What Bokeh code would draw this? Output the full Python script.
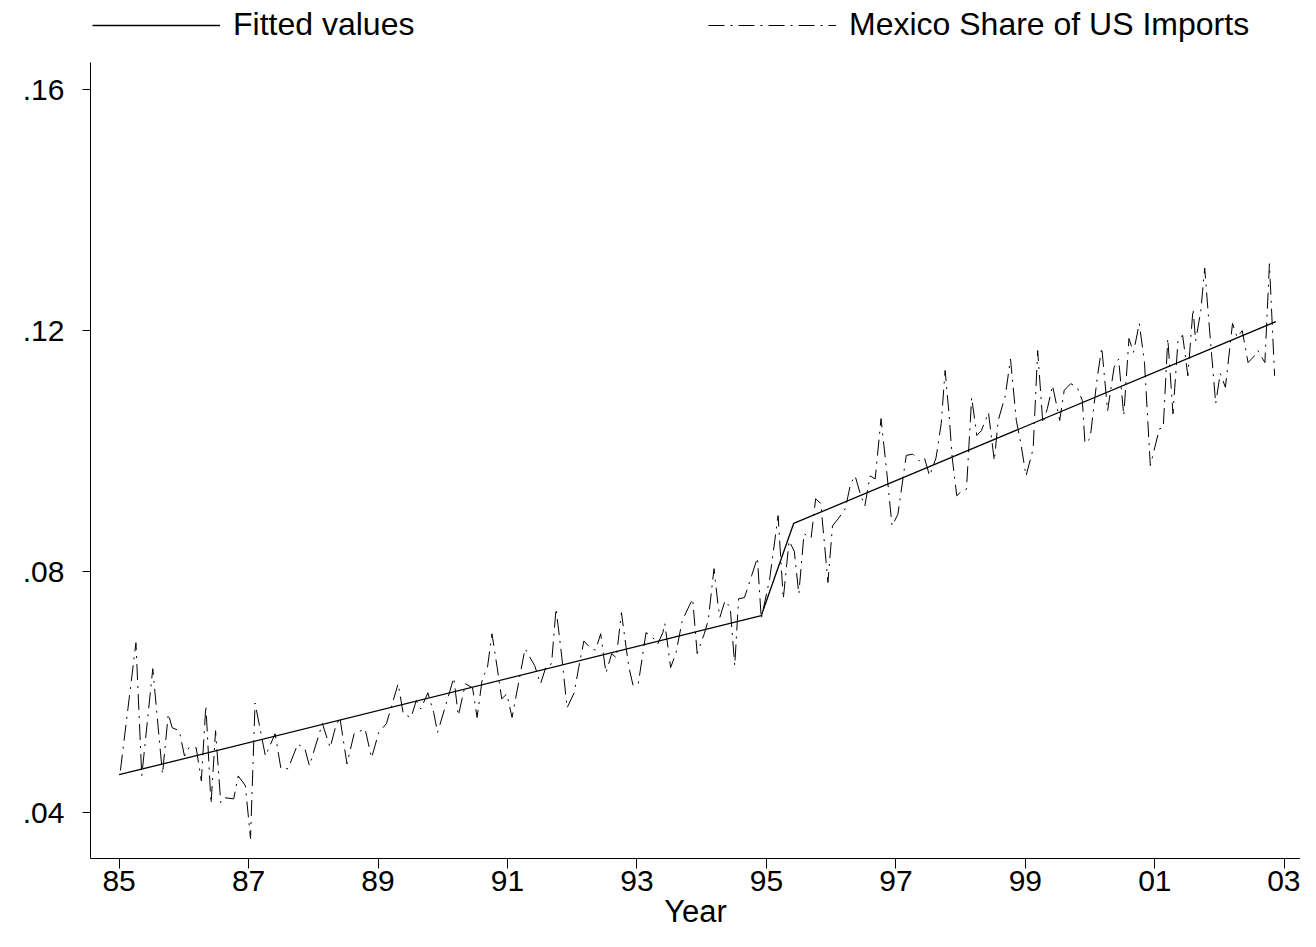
from bokeh.plotting import figure
from bokeh.layouts import column
from bokeh.models import Range1d, FixedTicker, Legend, LegendItem, ColumnDataSource
from bokeh.embed import file_html
from bokeh.resources import INLINE

# ---- data ----
share_year = [1985.02, 1985.26, 1985.35, 1985.52, 1985.67, 1985.76, 1985.82, 1985.93, 1986.01, 1986.08,
              1986.19, 1986.27, 1986.34, 1986.42, 1986.49, 1986.57, 1986.62, 1986.77, 1986.84, 1986.95,
              1987.03, 1987.10, 1987.26, 1987.41, 1987.50, 1987.61, 1987.76, 1987.87, 1987.94, 1988.14,
              1988.26, 1988.34, 1988.41, 1988.52, 1988.63, 1988.80, 1988.90, 1989.01, 1989.13, 1989.31,
              1989.39, 1989.51, 1989.59, 1989.66, 1989.77, 1989.86, 1989.92, 1990.08, 1990.17, 1990.24,
              1990.35, 1990.46, 1990.53, 1990.61, 1990.69, 1990.76, 1990.84, 1990.91, 1990.99, 1991.07,
              1991.27, 1991.42, 1991.51, 1991.60, 1991.68, 1991.75, 1991.84, 1991.92, 1992.03, 1992.10,
              1992.18, 1992.29, 1992.36, 1992.44, 1992.52, 1992.61, 1992.68, 1992.76, 1992.87, 1992.94,
              1993.02, 1993.14, 1993.25, 1993.32, 1993.40, 1993.43, 1993.52, 1993.60, 1993.70, 1993.81,
              1993.86, 1993.93, 1994.04, 1994.10, 1994.19, 1994.25, 1994.28, 1994.36, 1994.44, 1994.51,
              1994.57, 1994.66, 1994.77, 1994.86, 1994.92, 1995.05, 1995.18, 1995.26, 1995.35, 1995.43,
              1995.50, 1995.58, 1995.69, 1995.76, 1995.84, 1995.95, 1996.02, 1996.11, 1996.22, 1996.30,
              1996.37, 1996.45, 1996.52, 1996.60, 1996.68, 1996.77, 1996.86, 1996.94, 1997.03, 1997.16,
              1997.26, 1997.36, 1997.44, 1997.52, 1997.62, 1997.70, 1997.76, 1997.82, 1997.87, 1997.94,
              1998.02, 1998.09, 1998.17, 1998.25, 1998.32, 1998.43, 1998.52, 1998.58, 1998.69, 1998.77,
              1998.86, 1998.93, 1999.01, 1999.12, 1999.19, 1999.27, 1999.34, 1999.42, 1999.53, 1999.60,
              1999.70, 1999.80, 1999.88, 1999.92, 2000.00, 2000.11, 2000.18, 2000.27, 2000.37, 2000.44,
              2000.52, 2000.60, 2000.67, 2000.76, 2000.84, 2000.93, 2001.07, 2001.13, 2001.20, 2001.28,
              2001.36, 2001.43, 2001.51, 2001.59, 2001.63, 2001.71, 2001.77, 2001.83, 2001.94, 2002.01,
              2002.09, 2002.20, 2002.27, 2002.35, 2002.44, 2002.52, 2002.59, 2002.70, 2002.77, 2002.85]

share_value = [0.0470, 0.0682, 0.0461, 0.0639, 0.0464, 0.0564, 0.0541, 0.0536, 0.0494, 0.0508,
               0.0508, 0.0453, 0.0578, 0.0415, 0.0536, 0.0417, 0.0425, 0.0423, 0.0461, 0.0445,
               0.0357, 0.0582, 0.0494, 0.0531, 0.0473, 0.0473, 0.0514, 0.0506, 0.0478, 0.0548,
               0.0508, 0.0541, 0.0558, 0.0481, 0.0531, 0.0539, 0.0491, 0.0533, 0.0548, 0.0614,
               0.0564, 0.0558, 0.0586, 0.0572, 0.0599, 0.0566, 0.0533, 0.0591, 0.0624, 0.0561,
               0.0614, 0.0607, 0.0558, 0.0622, 0.0641, 0.0697, 0.0641, 0.0589, 0.0597, 0.0558,
               0.0672, 0.0644, 0.0614, 0.0644, 0.0647, 0.0739, 0.0657, 0.0574, 0.0599, 0.0641,
               0.0685, 0.0672, 0.0670, 0.0697, 0.0632, 0.0664, 0.0657, 0.0732, 0.0644, 0.0611,
               0.0614, 0.0699, 0.0690, 0.0680, 0.0699, 0.0714, 0.0641, 0.0664, 0.0719, 0.0744,
               0.0755, 0.0664, 0.0697, 0.0719, 0.0805, 0.0747, 0.0724, 0.0752, 0.0741, 0.0644,
               0.0755, 0.0757, 0.0793, 0.0823, 0.0722, 0.0788, 0.0893, 0.0755, 0.0851, 0.0834,
               0.0763, 0.0863, 0.0856, 0.0921, 0.0913, 0.0782, 0.0876, 0.0888, 0.0905, 0.0946,
               0.0959, 0.0929, 0.0909, 0.0959, 0.0954, 0.1054, 0.0964, 0.0876, 0.0895, 0.0993,
               0.0995, 0.0984, 0.0989, 0.0959, 0.0989, 0.1046, 0.1134, 0.1062, 0.0989, 0.0926,
               0.0934, 0.0937, 0.1089, 0.1026, 0.1034, 0.1064, 0.0984, 0.1051, 0.1092, 0.1153,
               0.1051, 0.1013, 0.0959, 0.1004, 0.1167, 0.1046, 0.1071, 0.1109, 0.1051, 0.1101,
               0.1112, 0.1106, 0.1084, 0.1013, 0.1021, 0.1122, 0.1172, 0.1067, 0.1139, 0.1153,
               0.1059, 0.1187, 0.1164, 0.1212, 0.1147, 0.0976, 0.1037, 0.1039, 0.1187, 0.1062,
               0.1187, 0.1192, 0.1125, 0.1236, 0.1183, 0.1233, 0.1304, 0.1221, 0.1079, 0.1129,
               0.1106, 0.1212, 0.1189, 0.1200, 0.1147, 0.1156, 0.1167, 0.1147, 0.1311, 0.1125]

fitted_year = [1985.00, 1994.92, 1995.42, 2002.87]
fitted_value = [0.0463, 0.0727, 0.0880, 0.1215]

x_ticks = [1985, 1987, 1989, 1991, 1993, 1995, 1997, 1999, 2001, 2003]
x_tick_labels = ["85", "87", "89", "91", "93", "95", "97", "99", "01", "03"]
y_ticks = [0.04, 0.08, 0.12, 0.16]
y_tick_labels = [".04", ".08", ".12", ".16"]

legend_labels = ["Fitted values", "Mexico Share of US Imports"]
x_title = "Year"

FONT = "Liberation Sans"
FIT_STYLE = dict(line_color="black", line_width=1.3)
SHARE_STYLE = dict(line_color="black", line_width=1, line_dash="16 6 2 6")

n = min(len(share_year), len(share_value))
src = ColumnDataSource(data=dict(x=share_year[:n], y=share_value[:n]))
fit_src = ColumnDataSource(data=dict(x=fitted_year, y=fitted_value))

# ---- legend strip (top); its ranges keep the series out of view, only the key shows ----
top = figure(width=1300, height=62, output_backend="svg", toolbar_location=None,
             x_range=Range1d(0, 1), y_range=Range1d(0, 1),
             x_axis_type=None, y_axis_type=None, min_border=0)
top.outline_line_color = None
top.background_fill_color = "white"
top.border_fill_color = "white"
lf = top.line("x", "y", source=fit_src, **FIT_STYLE)
ls = top.line("x", "y", source=src, **SHARE_STYLE)
legend = Legend(items=[LegendItem(label=legend_labels[0], renderers=[lf]),
                       LegendItem(label=legend_labels[1], renderers=[ls])],
                orientation="horizontal", location=(2, 19),
                glyph_width=128, glyph_height=32, label_height=32, label_width=185,
                label_standoff=13, spacing=290, padding=0, margin=0,
                border_line_color=None, background_fill_alpha=0,
                label_text_font=FONT, label_text_font_size="32px", label_text_color="black")
top.add_layout(legend, "center")

# ---- main plot ----
p = figure(width=1300, height=869, output_backend="svg", toolbar_location=None,
           x_range=Range1d(1984.558, 2003.25), y_range=Range1d(0.0324, 0.1645),
           min_border_left=90, min_border_right=0, min_border_top=0, min_border_bottom=73)
p.background_fill_color = "white"
p.border_fill_color = "white"
p.outline_line_color = None
p.xgrid.visible = False
p.ygrid.visible = False

p.line("x", "y", source=fit_src, **FIT_STYLE)
p.line("x", "y", source=src, **SHARE_STYLE)

p.xaxis.ticker = FixedTicker(ticks=x_ticks)
p.xaxis.major_label_overrides = {t: l for t, l in zip(x_ticks, x_tick_labels)}
p.yaxis.ticker = FixedTicker(ticks=y_ticks)
p.yaxis.major_label_overrides = {t: l for t, l in zip(y_ticks, y_tick_labels)}
for ax in (p.xaxis[0], p.yaxis[0]):
    ax.axis_line_color = "black"
    ax.axis_line_width = 1
    ax.major_tick_line_color = "black"
    ax.major_tick_in = 0
    ax.minor_tick_line_color = None
    ax.major_label_text_font = FONT
    ax.major_label_text_font_size = "30px"
    ax.major_label_text_color = "black"
p.xaxis.major_tick_out = 10
p.xaxis.major_label_standoff = 2
p.yaxis.major_tick_out = 8
p.yaxis.major_label_standoff = 18
p.xaxis.axis_label = x_title
p.xaxis.axis_label_text_font = FONT
p.xaxis.axis_label_text_font_size = "31px"
p.xaxis.axis_label_text_font_style = "normal"
p.xaxis.axis_label_text_color = "black"
p.xaxis.axis_label_standoff = 0

layout = column(top, p, spacing=0)
open("out.html", "w").write(file_html(layout, INLINE))
